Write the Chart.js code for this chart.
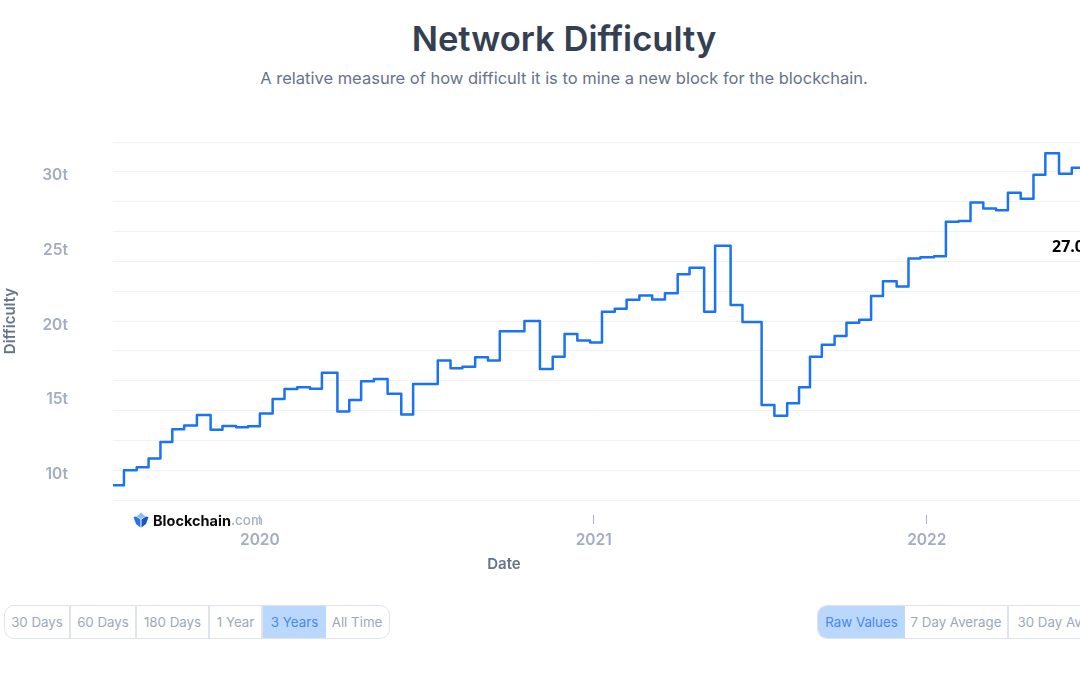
<!DOCTYPE html>
<html>
<head>
<meta charset="utf-8">
<title>Network Difficulty</title>
<script src="https://cdn.jsdelivr.net/npm/chart.js@4"></script>
<style>
  html, body { margin: 0; padding: 0; background: #fff; overflow: hidden; width: 1080px; height: 675px; }
  body { position: relative; font-family: Inter, "Noto Sans", sans-serif; }
  #titulo { position: absolute; left: 0; width: 1128px; top: 15px; margin: 0; text-align: center; font-size: 34.6px; line-height: 46px; font-weight: 600; color: #353f52; }
  #subtitulo { position: absolute; left: 0; width: 1128px; top: 67px; margin: 0; text-align: center; font-size: 16.5px; line-height: 22px; color: #677389; }
  #graficoDificuldade { position: absolute; left: 0; top: 130px; }
  #eixoX { position: absolute; left: 454px; width: 100px; top: 555px; text-align: center; font-size: 15px; line-height: 18px; font-weight: 600; color: #677389; }
  #eixoY { position: absolute; left: -40px; width: 100px; top: 312px; text-align: center; font-size: 15px; line-height: 18px; font-weight: 600; color: #677389; transform: rotate(-90deg); }
  #marca { position: absolute; left: 133px; top: 511px; height: 18px; display: flex; align-items: center; font-size: 14.5px; font-weight: 700; color: #0a0a0a; white-space: nowrap; }
  #marca svg { margin-right: 4px; }
  #marca span { color: #a9b1c2; font-weight: 500; font-size: 13.5px; }
  #valor { position: absolute; left: 1052px; top: 235px; font-family: "Open Sans", sans-serif; font-size: 16px; line-height: 22px; font-weight: 700; color: #000; white-space: nowrap; }
  .grupo { position: absolute; top: 605px; height: 34px; display: flex; box-sizing: border-box; border: 1.5px solid #dfe3ee; border-radius: 10px; overflow: hidden; font-size: 13.3px; color: #a0a8b8; }
  .grupo div { display: flex; flex-shrink: 0; align-items: center; justify-content: center; box-sizing: border-box; border-right: 2px solid #dfe3ee; white-space: nowrap; }
  .grupo div:last-child { border-right: 0; }
  .grupo .ativo { background: #b9d8fc; color: #4a86f5; border-right: 0; }
</style>
</head>
<body>
<h1 id="titulo">Network Difficulty</h1>
<p id="subtitulo">A relative measure of how difficult it is to mine a new block for the blockchain.</p>
<canvas id="graficoDificuldade" width="1080" height="425"></canvas>
<div id="eixoX">Date</div>
<div id="eixoY">Difficulty</div>
<div id="marca">
  <svg width="16" height="16" viewBox="0 0 16 16"><path d="M8 0.5 L12.5 4.5 L8 7 L3.5 4.5 Z" fill="#8fbcf8"/><path d="M0.5 5 L3 4.5 L7.5 7.5 L7.5 15.5 L3 12 Z" fill="#2a72e8"/><path d="M15.5 5 L13 4.5 L8.5 7.5 L8.5 15.5 L13 12 Z" fill="#1a55c0"/></svg>
  Blockchain<span>.com</span>
</div>
<div id="valor">27.0</div>
<div class="grupo" id="periodos" style="left:4px;width:386px"></div>
<div class="grupo" id="medias" style="left:817px;width:320px"></div>
<script>
// Dias desde 2020-01-01 em que cada degrau da dificuldade começa
const diasDegrau = [-161, -149, -135, -122, -109, -96, -83, -69, -54, -41, -26, -13, 0, 14, 27, 41, 55, 68, 85, 98,
  111, 125, 140, 155, 168, 195, 209, 222, 236, 250, 263, 290, 307, 321, 334, 348, 362, 375, 389, 402,
  416, 430, 444, 458, 471, 487, 499, 516, 529, 550, 564, 578, 591, 603, 616, 630, 643, 657, 670, 683,
  698, 711, 724, 739, 752, 766, 779, 793, 807, 820, 834, 848, 861, 876, 890, 899];
// Dificuldade em trilhões (t)
const dificuldade = [9.0, 10.0, 10.2, 10.78, 11.9, 12.75, 13.0, 13.7, 12.72, 12.97, 12.88, 12.95, 13.8, 14.77, 15.45, 15.56, 15.47, 16.54, 13.93, 14.7,
  15.96, 16.12, 15.13, 13.73, 15.78, 17.35, 16.83, 16.94, 17.57, 17.35, 19.31, 20.0, 16.79, 17.61, 19.13, 18.69, 18.57, 20.62, 20.83, 21.43,
  21.72, 21.45, 21.87, 23.13, 23.57, 20.62, 25.05, 21.07, 19.93, 14.37, 13.66, 14.49, 15.56, 17.61, 18.41, 19.0, 19.89, 20.09, 21.68, 22.66,
  22.32, 24.2, 24.27, 24.35, 26.65, 26.7, 27.95, 27.55, 27.43, 28.6, 28.2, 29.8, 31.25, 29.87, 30.28, 30.28];
const anos = ['2020', '2021', '2022'];
const diasAno = [0, 366, 731];
const periodos = ['30 Days', '60 Days', '180 Days', '1 Year', '3 Years', 'All Time'];
const largPeriodos = [66, 66, 73, 53, 63, 62];
const medias = ['Raw Values', '7 Day Average', '30 Day Average'];
const largMedias = [87, 104, 117];

function montarBotoes(id, nomes, larguras, ativo) {
    const grupo = document.getElementById(id);
    nomes.forEach((nome, i) => {
        const b = document.createElement('div');
        b.textContent = nome;
        b.style.width = larguras[i] + 'px';
        if (nome === ativo) b.className = 'ativo';
        grupo.appendChild(b);
    });
}
montarBotoes('periodos', periodos, largPeriodos, '3 Years');
montarBotoes('medias', medias, largMedias, 'Raw Values');

const ctx = document.getElementById('graficoDificuldade').getContext('2d');
new Chart(ctx, {
    type: 'line',
    data: {
        datasets: [{
            label: 'Difficulty',
            data: diasDegrau.map((d, i) => ({ x: d, y: dificuldade[i] })),
            stepped: 'before',
            borderColor: '#1a73f2',
            borderWidth: 2.5,
            borderJoinStyle: 'round',
            pointRadius: 0,
            fill: false
        }]
    },
    options: {
        responsive: false,
        animation: false,
        layout: { padding: { top: 12, left: 0, right: 0, bottom: 0 } },
        plugins: { legend: { display: false }, tooltip: { enabled: false } },
        scales: {
            x: {
                type: 'linear',
                min: -161,
                max: 899,
                afterBuildTicks: scale => { scale.ticks = diasAno.map(v => ({ value: v })); },
                afterFit: scale => { scale.height = 40; scale.paddingLeft = 0; scale.paddingRight = 0; },
                ticks: {
                    autoSkip: false,
                    maxRotation: 0,
                    padding: 7,
                    color: '#a3acc0',
                    font: { family: 'Inter', size: 15.5, weight: '600' },
                    callback: v => anos[diasAno.indexOf(v)]
                },
                grid: { drawOnChartArea: false, drawTicks: true, tickLength: 9, color: '#a9b1c2' },
                border: { display: false }
            },
            y: {
                min: 7,
                max: 32,
                afterBuildTicks: scale => {
                    const t = [];
                    for (let v = 7; v <= 32; v++) if (v % 2 === 0 || v % 5 === 0) t.push({ value: v });
                    scale.ticks = t;
                },
                afterFit: scale => { scale.width = 113; scale.paddingTop = 0; scale.paddingBottom = 0; },
                ticks: {
                    autoSkip: false,
                    padding: 45,
                    color: '#a3acc0',
                    font: { family: 'Inter', size: 15.5, weight: '600', lineHeight: 0.5 },
                    callback: v => (v % 5 === 0 ? ['', v + 't'] : '')
                },
                grid: {
                    drawTicks: false,
                    lineWidth: 1,
                    color: c => (c.tick && c.tick.value % 2 === 0 ? '#eff1f6' : 'transparent')
                },
                border: { display: false }
            }
        }
    }
});
</script>
</body>
</html>
